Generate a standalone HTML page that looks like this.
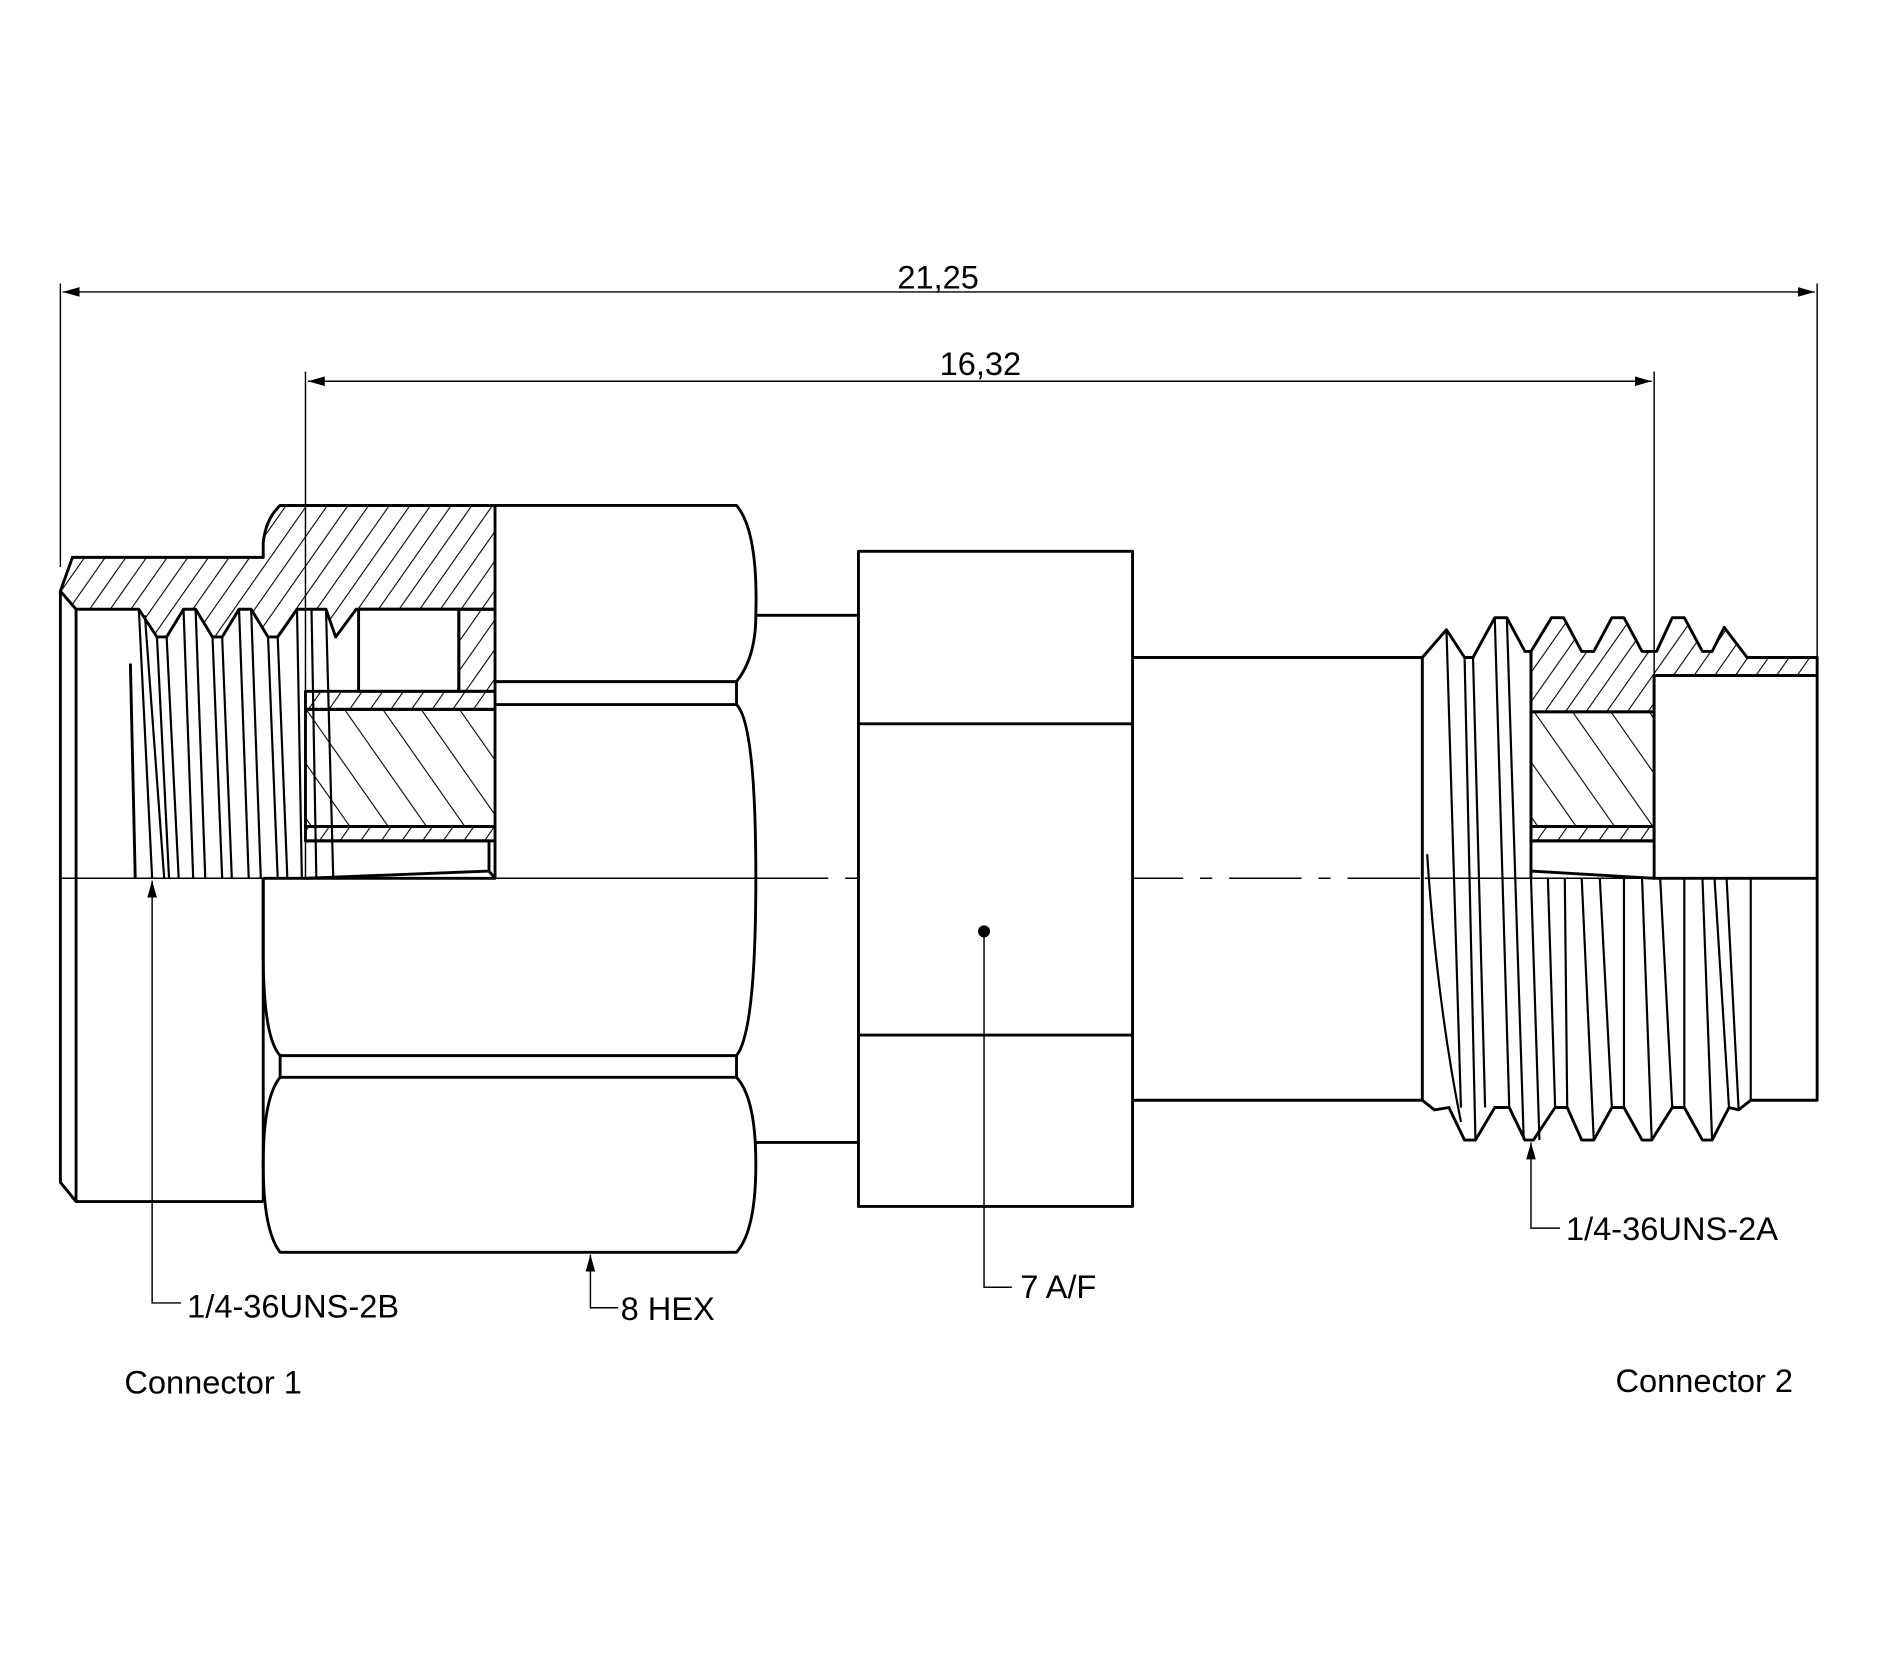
<!DOCTYPE html>
<html><head><meta charset="utf-8"><style>
html,body{margin:0;padding:0;background:#fff;}
svg{display:block;}
text{font-family:"Liberation Sans",sans-serif;font-size:27px;fill:#000;}
</style></head><body>
<svg width="1892" height="1654" viewBox="0 0 1567 1371" preserveAspectRatio="none" xmlns="http://www.w3.org/2000/svg">
<defs>
<pattern id="h1" patternUnits="userSpaceOnUse" width="14" height="14" patternTransform="rotate(35)"><line x1="0" y1="0" x2="0" y2="14" stroke="#000" stroke-width="1.8"/></pattern>
<pattern id="h2" patternUnits="userSpaceOnUse" width="26" height="26" patternTransform="rotate(-35)"><line x1="0" y1="0" x2="0" y2="26" stroke="#000" stroke-width="1.8"/></pattern>
<marker id="ar" markerWidth="14" markerHeight="8" refX="14" refY="4" orient="auto" markerUnits="userSpaceOnUse"><path d="M0,0 L14,4 L0,8 z" fill="#000"/></marker>
<marker id="al" markerWidth="14" markerHeight="8" refX="0" refY="4" orient="auto" markerUnits="userSpaceOnUse"><path d="M14,0 L0,4 L14,8 z" fill="#000"/></marker>
</defs>
<g fill="none" stroke="#000" stroke-width="1.2">
<line x1="50" y1="235" x2="50" y2="470"/>
<line x1="1505" y1="235" x2="1505" y2="545"/>
<line x1="52" y1="242" x2="1503" y2="242" marker-start="url(#al)" marker-end="url(#ar)"/>
<line x1="253" y1="308" x2="253" y2="728"/>
<line x1="1370" y1="308" x2="1370" y2="560"/>
<line x1="255" y1="316" x2="1368" y2="316" marker-start="url(#al)" marker-end="url(#ar)"/>
<line x1="50" y1="728" x2="626" y2="728"/>
<line x1="626" y1="728" x2="1180" y2="728" stroke-dasharray="60,14,10,14"/>
<line x1="1180" y1="728" x2="1505" y2="728"/>
</g>
<g stroke="#000" stroke-width="2.4" fill="none" stroke-linejoin="round">
<path fill="url(#h1)" d="M50,490 L60,462 L218,462 L218,450 Q220,430 232,419 L410,419 L410,505 L295,505 L278,528 L270,505 L258,505 L246,505 L230,528 L222,528 L208,505 L198,505 L184,528 L176,528 L162,505 L152,505 L138,528 L130,528 L115,505 L63,505 Z"/>
<path d="M50,490 L50,980 L63,996 L218,996"/>
<line x1="63" y1="505" x2="63" y2="996"/>
<line x1="218" y1="728" x2="218" y2="996"/>
<path stroke-width="1.8" d="M115,505 L126,728 M120,510 L136,728 M130,528 L140,728 M138,528 L148,728 M152,505 L160,728 M162,505 L170,728 M176,528 L184,728 M184,528 L192,728 M198,505 L206,728 M208,505 L216,728 M222,528 L230,728 M230,528 L238,728 M246,505 L250,728 M258,505 L262,728 M270,505 L276,728"/>
<line x1="108" y1="550" x2="112" y2="728"/>
<path d="M232,419 L610,419 Q628,440 626,510 Q626,545 610,565 L610,584 Q626,600 626,728 Q626,855 610,875 L610,893 Q626,910 626,965 Q626,1020 610,1038 L232,1038 Q218,1020 218,965 Q218,910 232,893 L232,875 Q218,860 218,790 L218,728"/>
<line x1="410" y1="565" x2="610" y2="565"/>
<line x1="410" y1="584" x2="610" y2="584"/>
<line x1="232" y1="875" x2="610" y2="875"/>
<line x1="232" y1="893" x2="610" y2="893"/>
<rect x="297" y="505" width="83" height="68" fill="#fff"/>
<rect x="380" y="505" width="30" height="68" fill="url(#h1)"/>
<rect x="253" y="573" width="157" height="15" fill="url(#h1)"/>
<rect x="253" y="588" width="157" height="97" fill="url(#h2)"/>
<rect x="253" y="685" width="157" height="12" fill="url(#h1)"/>
<path d="M253,697 L405,697 L405,722 L253,728 M405,722 L410,728 L410,697"/>
<line x1="218" y1="728" x2="410" y2="728"/>
<line x1="626" y1="510" x2="711" y2="510"/>
<line x1="626" y1="947" x2="711" y2="947"/>
<rect x="711" y="457" width="227" height="543" fill="#fff"/>
<line x1="711" y1="600" x2="938" y2="600"/>
<line x1="711" y1="858" x2="938" y2="858"/>
<line x1="938" y1="545" x2="1178" y2="545"/>
<line x1="938" y1="912" x2="1178" y2="912"/>
<path fill="url(#h1)" d="M1268,540 L1285,512 L1295,512 L1310,540 L1320,540 L1335,512 L1345,512 L1360,540 L1372,540 L1385,512 L1395,512 L1410,540 L1418,540 L1428,520 L1447,545 L1505,545 L1505,560 L1370,560 L1370,590 L1268,590 Z"/>
<rect x="1268" y="590" width="102" height="95" fill="url(#h2)"/>
<rect x="1268" y="685" width="102" height="12" fill="url(#h1)"/>
<path d="M1268,697 L1370,697 M1268,722 L1370,728"/>
<rect x="1370" y="560" width="135" height="168" fill="#fff"/>
<path d="M1178,545 L1198,522 L1213,545 L1220,545 L1238,512 L1248,512 L1263,540 L1268,540 L1268,728"/>
<path d="M1178,545 L1178,912 L1188,920 L1200,918 L1213,945 L1222,945 L1238,918 L1250,918 L1263,945 L1270,945 L1288,918 L1298,918 L1310,945 L1320,945 L1335,918 L1345,918 L1360,945 L1368,945 L1385,918 L1395,918 L1410,945 L1418,945 L1432,918 L1440,920 L1450,912 L1505,912 L1505,728"/>
<path stroke-width="1.8" d="M1198,522 L1210,918 M1213,545 L1222,945 M1220,545 L1230,918 M1238,512 L1250,918 M1248,512 L1262,945 M1268,728 L1275,945 M1282,728 L1288,918 M1296,728 L1298,918 M1310,728 L1320,945 M1325,728 L1335,918 M1345,728 L1345,918 M1360,728 L1368,945 M1375,728 L1385,918 M1395,728 L1395,918 M1410,728 L1418,945 M1420,728 L1432,918 M1430,728 L1440,920 M1450,728 L1450,912"/>
<path stroke-width="1.8" d="M1182,708 Q1190,830 1210,930"/>
</g>
<circle cx="815" cy="772" r="5" fill="#000"/>
<g stroke="#000" stroke-width="1.2" fill="none">
<path d="M126,730 L126,1080 L150,1080" marker-start="url(#al)"/>
<path d="M489,1040 L489,1084 L512,1084" marker-start="url(#al)"/>
<path d="M815,772 L815,1067 L838,1067"/>
<path d="M1268,947 L1268,1018 L1292,1018" marker-start="url(#al)"/>
</g>
<text x="777" y="239" text-anchor="middle">21,25</text>
<text x="812" y="311" text-anchor="middle">16,32</text>
<text x="155" y="1092">1/4-36UNS-2B</text>
<text x="514" y="1094">8 HEX</text>
<text x="845" y="1076">7 A/F</text>
<text x="1297" y="1028">1/4-36UNS-2A</text>
<text x="103" y="1155">Connector 1</text>
<text x="1338" y="1154">Connector 2</text>
</svg>
</body></html>
